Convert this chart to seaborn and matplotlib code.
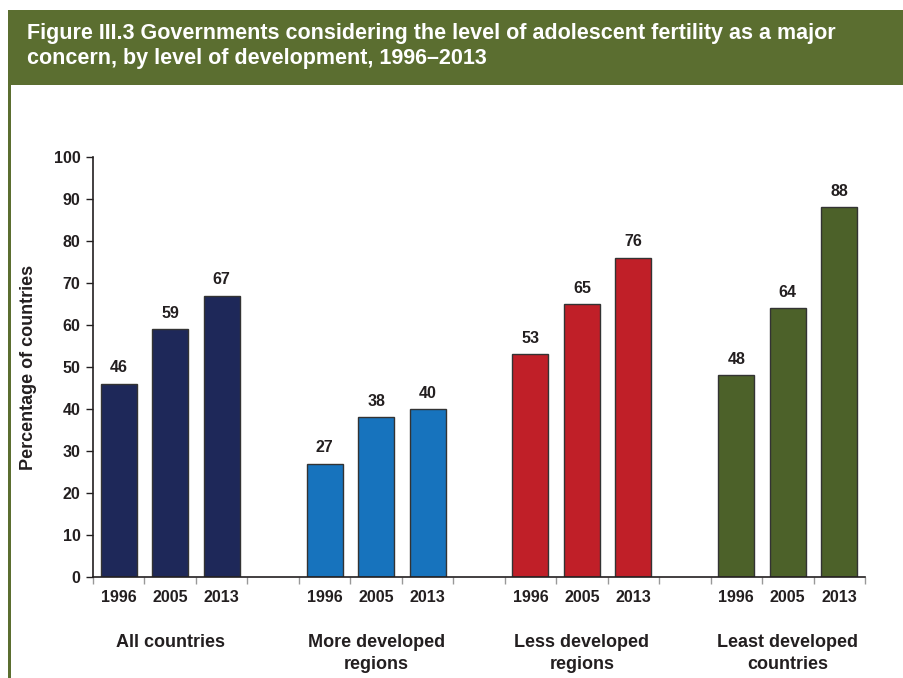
import matplotlib
matplotlib.use("Agg")
import matplotlib.pyplot as plt
import seaborn as sns
import pandas as pd
from matplotlib.patches import Rectangle

groups = ["All countries", "More developed\nregions", "Less developed\nregions", "Least developed\ncountries"]
years = ["1996", "2005", "2013"]
values = {
    "All countries": [46, 59, 67],
    "More developed\nregions": [27, 38, 40],
    "Less developed\nregions": [53, 65, 76],
    "Least developed\ncountries": [48, 64, 88],
}
colors = ["#1e2859", "#1773bd", "#c01f28", "#4c6129"]
banner_color = "#5b6e30"
title = "Figure III.3 Governments considering the level of adolescent fertility as a major\nconcern, by level of development, 1996\u20132013"

rows = []
order = []
for gi, g in enumerate(groups):
    for y, v in zip(years, values[g]):
        key = f"{g}|{y}"
        rows.append({"slot": key, "group": g, "year": y, "value": v})
        order.append(key)
    if gi < len(groups) - 1:
        order.append(f"gap{gi}")
df = pd.DataFrame(rows)

sns.set_style("white")
plt.rcParams["font.family"] = ["Liberation Sans", "DejaVu Sans"]

fig = plt.figure(figsize=(9.04, 6.78), dpi=100)
# banner
fig.patches.append(Rectangle((8 / 904, 1 - 85 / 678), 1, 75 / 678, transform=fig.transFigure,
                             facecolor=banner_color, edgecolor="none", zorder=0))
fig.patches.append(Rectangle((8 / 904, 0), 2.5 / 904, 1 - 85 / 678, transform=fig.transFigure,
                             facecolor=banner_color, edgecolor="none", zorder=0))
fig.text(27 / 904, 1 - 46 / 678, title, color="white", fontsize=15.5, fontweight="bold",
         va="center", ha="left", linespacing=1.3)

ax = fig.add_axes([93 / 904, 101 / 678, 772 / 904, 420 / 678])
sns.barplot(data=df, x="slot", y="value", hue="group", order=order, hue_order=groups,
            palette=colors, saturation=1, dodge=False, width=0.7, edgecolor="#333333",
            linewidth=1, legend=False, ax=ax)

ax.set_ylim(0, 100)
ax.set_xlim(-0.5, len(order) - 0.5)
ax.set_yticks(range(0, 101, 10))
ax.set_yticklabels([str(t) for t in range(0, 101, 10)], fontsize=11.5, fontweight="bold", color="#231f20")
ax.set_xticks([i - 0.5 for i in range(len(order) + 1)])
ax.set_xticklabels([])
ax.tick_params(axis="y", direction="out", length=5, width=1, color="#231f20", left=True, pad=4)
ax.tick_params(axis="x", direction="out", length=5, width=1, color="#999999", bottom=True)
for s in ["top", "right"]:
    ax.spines[s].set_visible(False)
for s in ["left", "bottom"]:
    ax.spines[s].set_color("#231f20")
    ax.spines[s].set_linewidth(1.2)
ax.set_xlabel("")
ax.set_ylabel("Percentage of countries", fontsize=13, fontweight="bold", color="#231f20", labelpad=12)

# value labels and year labels
for gi, g in enumerate(groups):
    for yi, (y, v) in enumerate(zip(years, values[g])):
        x = order.index(f"{g}|{y}")
        ax.annotate(str(v), (x, v), xytext=(0, 6), textcoords="offset points", ha="center",
                    va="bottom", fontsize=11.5, fontweight="bold", color="#231f20")
        ax.annotate(y, (x, 0), xycoords=("data", "axes fraction"), xytext=(0, -15),
                    textcoords="offset points", ha="center", va="center", fontsize=11.5,
                    fontweight="bold", color="#231f20")
    xc = order.index(f"{g}|2005")
    ax.annotate(g, (xc, 0), xycoords=("data", "axes fraction"), xytext=(0, -41),
                textcoords="offset points", ha="center", va="top", fontsize=13,
                fontweight="bold", color="#231f20", linespacing=1.4)

fig.savefig("out.png", dpi=100)
